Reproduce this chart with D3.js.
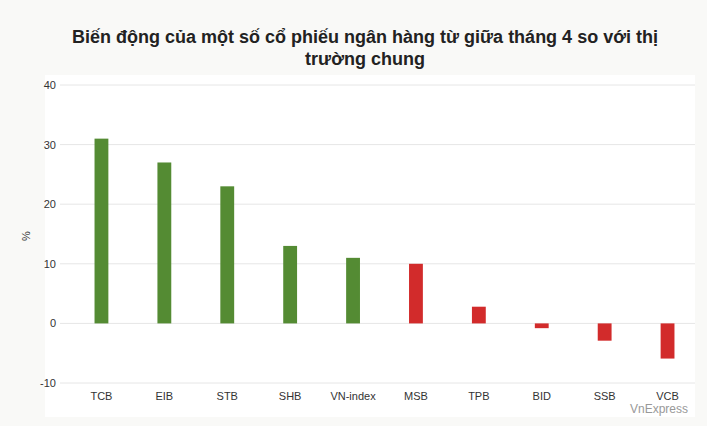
<!DOCTYPE html>
<html><head><meta charset="utf-8">
<script src="https://cdn.jsdelivr.net/npm/d3@7"></script>
<style>body{margin:0;background:#f9f9f7;font-family:Arial,"Liberation Sans",sans-serif}</style>
</head><body><svg id="chart" width="707" height="426"></svg>
<script>
const categories = ["TCB","EIB","STB","SHB","VN-index","MSB","TPB","BID","SSB","VCB"];
const values = [31, 27, 23, 13, 11, 10, 2.8, -0.8, -2.9, -5.9];
const colors = ["#548b33","#548b33","#548b33","#548b33","#548b33","#d22b2b","#d22b2b","#d22b2b","#d22b2b","#d22b2b"];
const yTicks = [-10, 0, 10, 20, 30, 40];

const svg = d3.select("#chart");
const m = {top: 85, right: 8, bottom: 43, left: 70};
const W = 707, H = 426;

svg.append("rect").attr("x", 45).attr("y", 75).attr("width", 650).attr("height", 342).attr("fill", "#fff");

const x = d3.scaleBand().domain(categories).range([m.left, W - m.right])
  .paddingInner(0.78).paddingOuter(0.39);
const y = d3.scaleLinear().domain([-10, 40]).range([H - m.bottom, m.top]);

svg.append("g").selectAll("line").data(yTicks).join("line")
  .attr("x1", 60).attr("x2", 695).attr("y1", d => y(d)).attr("y2", d => y(d))
  .attr("stroke", "#e6e6e6");

svg.append("g").selectAll("text").data(yTicks).join("text")
  .attr("x", 56).attr("y", d => y(d) + 4).attr("text-anchor", "end")
  .attr("font-size", 11).attr("fill", "#333").text(d => d);

svg.append("g").selectAll("rect").data(values).join("rect")
  .attr("x", (d, i) => x(categories[i])).attr("width", x.bandwidth())
  .attr("y", d => y(Math.max(0, d))).attr("height", d => Math.abs(y(d) - y(0)))
  .attr("fill", (d, i) => colors[i]);

svg.append("g").selectAll("text").data(categories).join("text")
  .attr("x", d => x(d) + x.bandwidth() / 2).attr("y", 400).attr("text-anchor", "middle")
  .attr("font-size", 11).attr("fill", "#333").text(d => d);

svg.append("text").attr("transform", "translate(30,236) rotate(-90)")
  .attr("text-anchor", "middle").attr("font-size", 11).attr("fill", "#333").text("%");

const title = svg.append("text").attr("text-anchor", "middle").attr("font-size", 18)
  .attr("font-weight", "bold").attr("fill", "#222");
title.append("tspan").attr("x", 365).attr("y", 43).text("Biến động của một số cổ phiếu ngân hàng từ giữa tháng 4 so với thị");
title.append("tspan").attr("x", 365).attr("y", 65).text("trường chung");

svg.append("text").attr("x", 688).attr("y", 413).attr("text-anchor", "end")
  .attr("font-size", 12).attr("fill", "#999").text("VnExpress");
</script></body></html>
